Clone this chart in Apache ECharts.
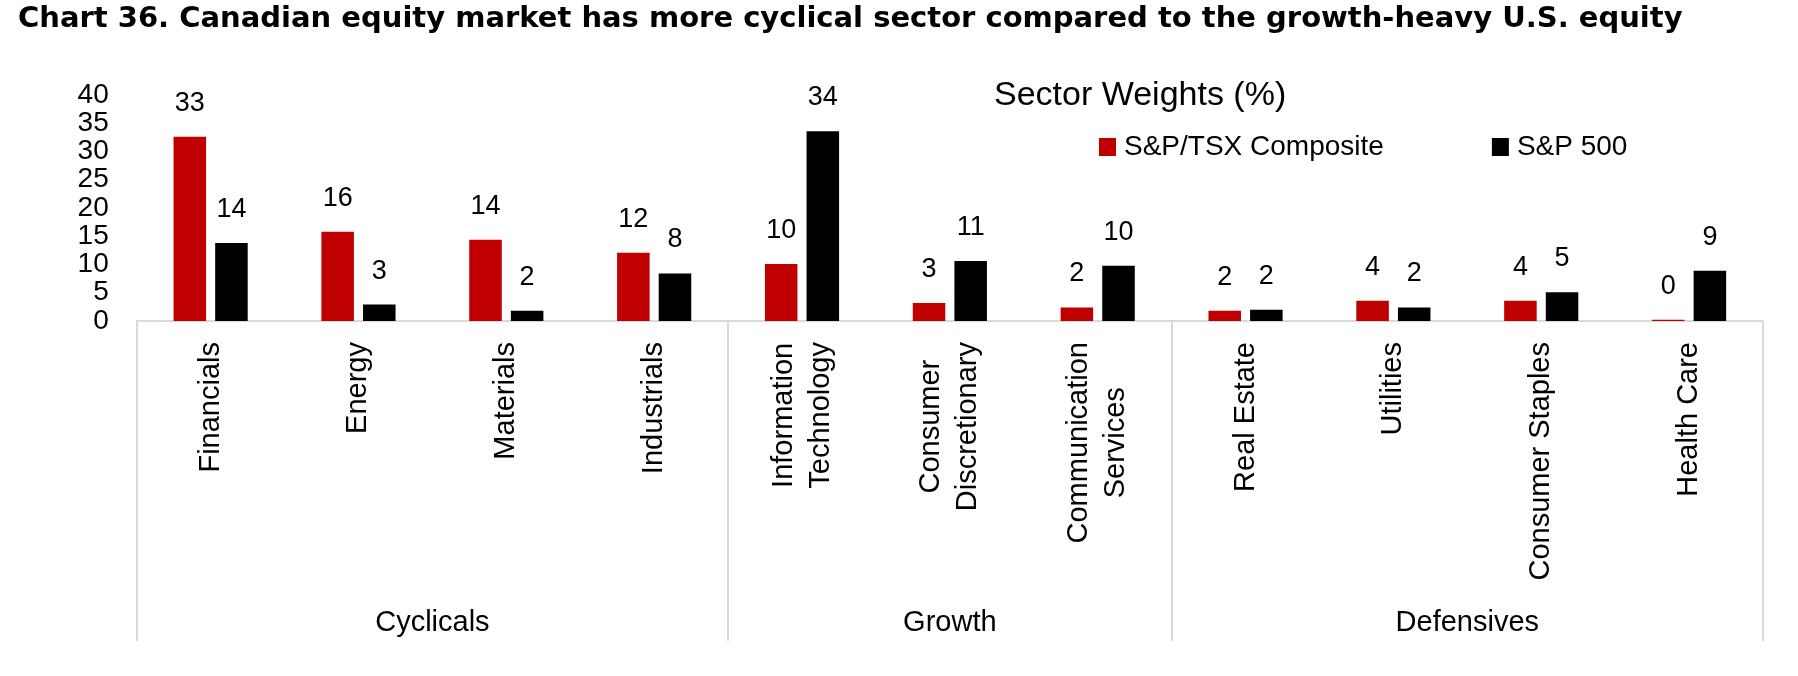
<!DOCTYPE html>
<html>
<head>
<meta charset="utf-8">
<script src="https://cdn.jsdelivr.net/npm/echarts@6/dist/echarts.min.js"></script>
<style>
html,body{margin:0;padding:0;background:#fff;}
#chart{width:1798px;height:676px;}
</style>
</head>
<body>
<div id="chart"></div>
<script>
var categories = ['Financials','Energy','Materials','Industrials','Information\nTechnology','Consumer\nDiscretionary','Communication\nServices','Real Estate','Utilities','Consumer Staples','Health Care'];
var tsxValues = [32.6, 15.8, 14.4, 12.1, 10.1, 3.2, 2.4, 1.8, 3.6, 3.6, 0.2];
var spValues = [13.8, 2.9, 1.8, 8.4, 33.6, 10.6, 9.8, 2.0, 2.4, 5.1, 8.9];
var groupNames = ['Cyclicals','Growth','Defensives'];
var groupSizes = [4, 3, 4];
var yTicks = [0, 5, 10, 15, 20, 25, 30, 35, 40];

var FONT = '"Liberation Sans", Arial, sans-serif';
var TITLE_FONT = '"DejaVu Sans", "Liberation Sans", sans-serif';
var groupBounds = [0], groupCenters = [], acc = 0;
groupSizes.forEach(function (s) { groupCenters.push(acc + s / 2); acc += s; groupBounds.push(acc); });

var chart = echarts.init(document.getElementById('chart'));
chart.setOption({
  backgroundColor: '#fff',
  animation: false,
  title: [{
    text: 'Chart 36. Canadian equity market has more cyclical sector compared to the growth-heavy U.S. equity',
    left: 18, top: 3, padding: 0,
    textStyle: {fontFamily: TITLE_FONT, fontWeight: 'bold', fontSize: 29, color: '#000', lineHeight: 32}
  }, {
    text: 'Sector Weights (%)',
    left: 994, top: 79, padding: 0,
    textStyle: {fontFamily: FONT, fontWeight: 'normal', fontSize: 34, color: '#000', lineHeight: 34}
  }],
  legend: {
    left: 1099, top: 133, padding: 0,
    itemWidth: 17, itemHeight: 18, itemGap: 108,
    icon: 'rect',
    textStyle: {fontFamily: FONT, fontSize: 28, color: '#000', padding: [0, 0, 0, 3]},
    data: ['S&P/TSX Composite', 'S&P 500']
  },
  grid: {left: 136.7, right: 35, top: 95, bottom: 355, containLabel: false},
  xAxis: [{
    type: 'category',
    data: categories,
    axisLine: {show: true, lineStyle: {color: '#D9D9D9', width: 2}},
    axisTick: {show: false},
    axisLabel: {
      interval: 0, rotate: 90, margin: 21, color: '#000',
      fontFamily: FONT, fontSize: 29, lineHeight: 37,
      formatter: function (v) { return '{c|' + v.split('\n').join('}\n{c|') + '}'; },
      rich: {c: {align: 'center', fontFamily: FONT, fontSize: 29, lineHeight: 37, color: '#000'}}
    },
    splitLine: {show: false}
  }, {
    type: 'value',
    position: 'bottom',
    min: 0, max: categories.length,
    axisLine: {show: false},
    splitLine: {show: false},
    axisTick: {show: true, customValues: groupBounds, length: 320, lineStyle: {color: '#D9D9D9', width: 2}},
    axisLabel: {
      customValues: groupCenters, margin: 287, color: '#000',
      fontFamily: FONT, fontSize: 29, lineHeight: 29,
      formatter: function (v) {
        var i = groupCenters.indexOf(v);
        return i >= 0 ? groupNames[i] : '';
      }
    }
  }],
  yAxis: {
    type: 'value', min: yTicks[0], max: yTicks[yTicks.length - 1], interval: yTicks[1] - yTicks[0],
    axisLine: {show: false}, axisTick: {show: false}, splitLine: {show: false},
    axisLabel: {margin: 28, color: '#000', fontFamily: FONT, fontSize: 28}
  },
  series: [{
    name: 'S&P/TSX Composite', type: 'bar', data: tsxValues,
    barWidth: '22%', barGap: '28%',
    itemStyle: {color: '#C00000'},
    label: {show: true, position: 'top', distance: 20, color: '#000', fontFamily: FONT, fontSize: 27, lineHeight: 27,
      formatter: function (p) { return Math.round(p.value); }}
  }, {
    name: 'S&P 500', type: 'bar', data: spValues,
    barWidth: '22%', barGap: '28%',
    itemStyle: {color: '#000000'},
    label: {show: true, position: 'top', distance: 20, color: '#000', fontFamily: FONT, fontSize: 27, lineHeight: 27,
      formatter: function (p) { return Math.round(p.value); }}
  }]
});
</script>
</body>
</html>
